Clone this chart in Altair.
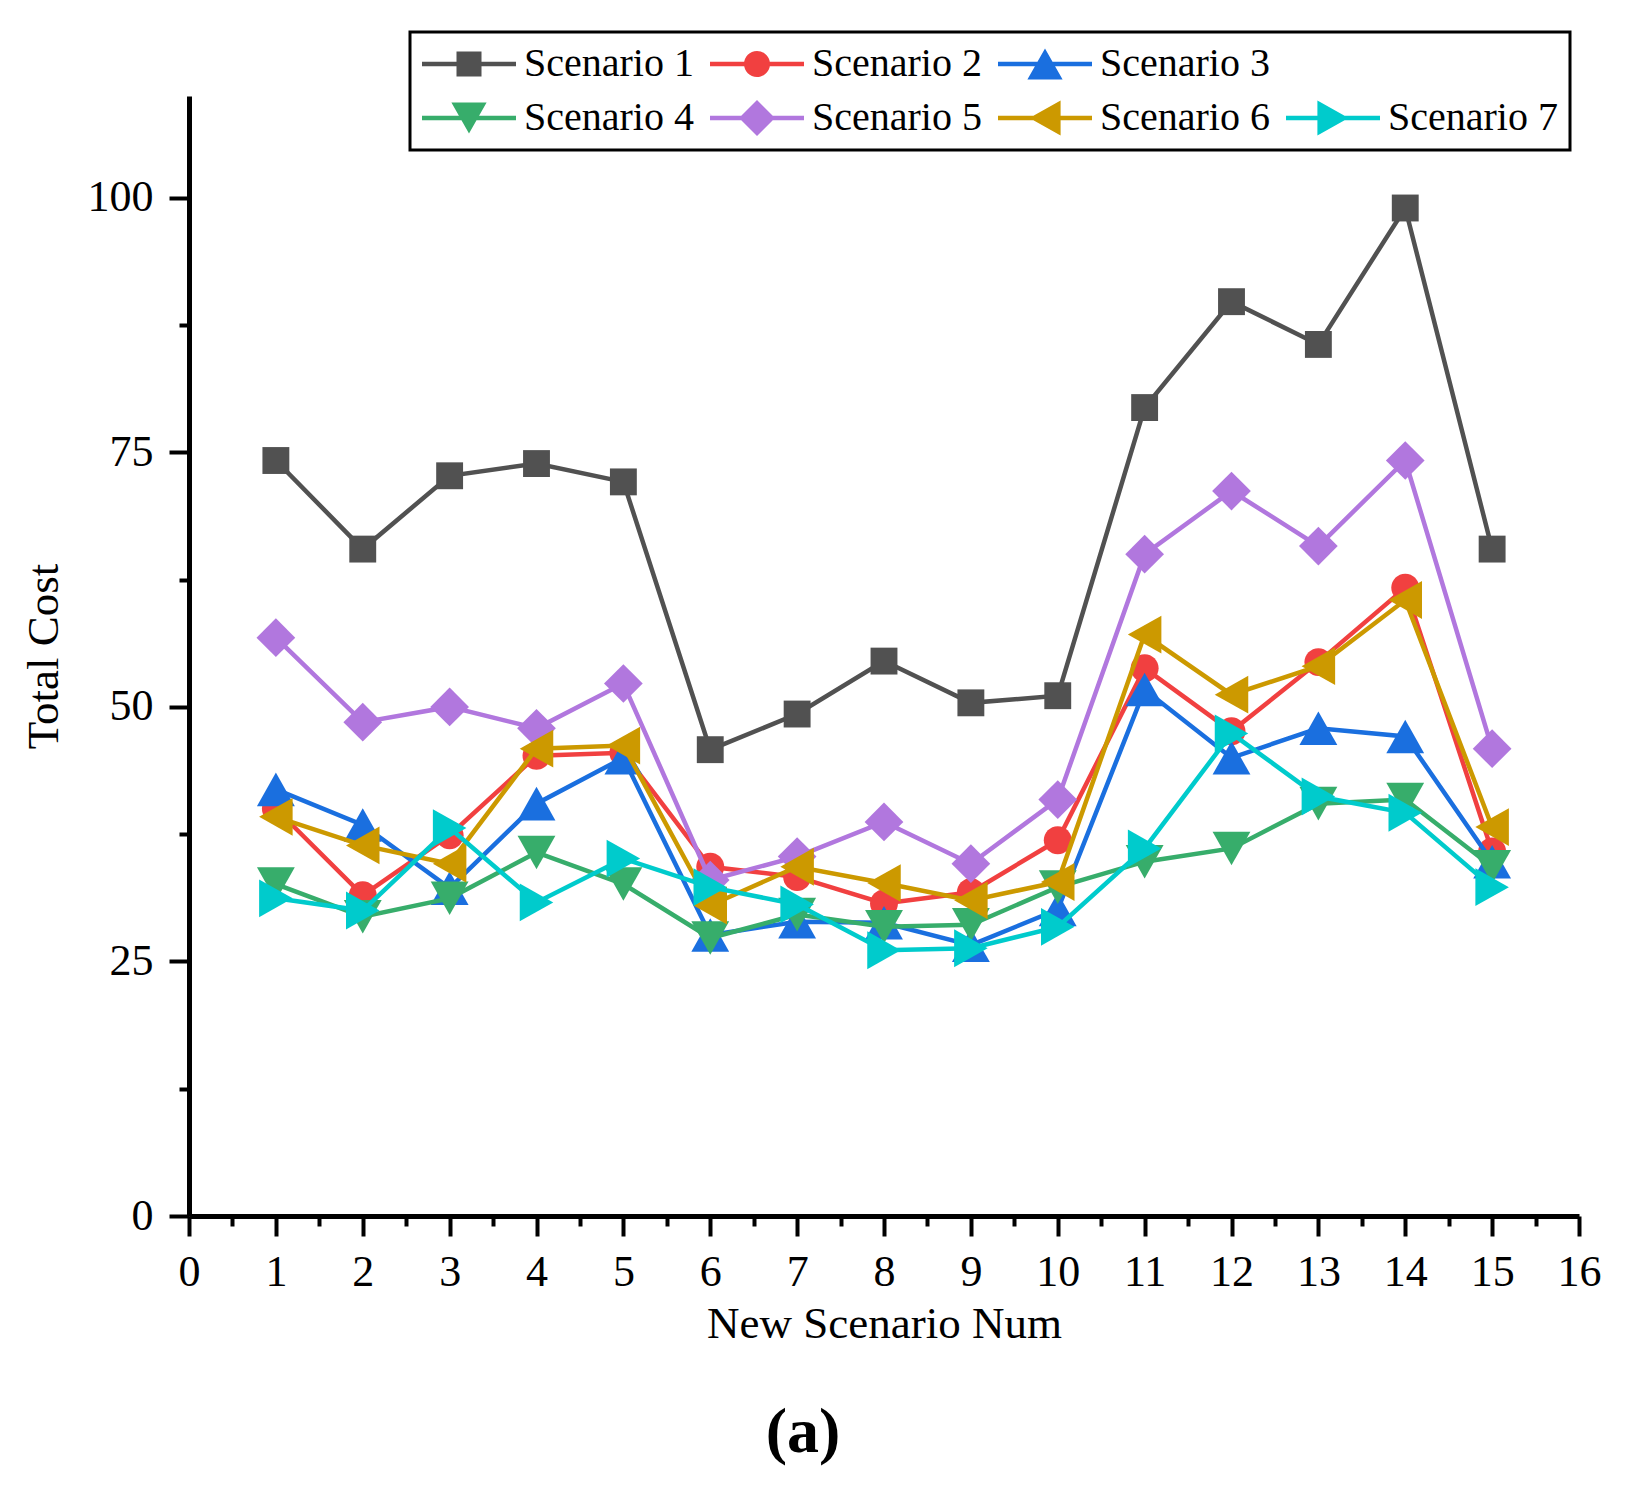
import altair as alt
import pandas as pd

# ---------------- data ----------------
scenario_nums = list(range(1, 16))
series_names = ["Scenario 1", "Scenario 2", "Scenario 3", "Scenario 4",
                "Scenario 5", "Scenario 6", "Scenario 7"]

scenario_1 = [74.2, 65.5, 72.7, 73.9, 72.1, 45.8, 49.3, 54.5, 50.4, 51.1, 79.4, 89.8, 85.6, 99.0, 65.5]
scenario_2 = [40.0, 31.5, 37.4, 45.2, 45.5, 34.3, 33.3, 30.7, 31.8, 36.9, 53.8, 47.6, 54.4, 61.7, 35.8]
scenario_3 = [41.9, 38.4, 32.2, 40.5, 45.0, 27.6, 28.9, 28.8, 26.6, 30.1, 51.7, 45.0, 47.9, 47.1, 34.8]
scenario_4 = [32.6, 29.4, 31.2, 35.7, 32.6, 27.3, 29.6, 28.4, 28.6, 32.3, 34.8, 36.1, 40.5, 40.9, 34.3]
scenario_5 = [56.8, 48.5, 50.0, 47.9, 52.3, 33.0, 35.3, 38.7, 34.6, 40.9, 65.0, 71.2, 65.8, 74.2, 45.9]
scenario_6 = [39.2, 36.4, 34.6, 45.9, 46.2, 30.5, 34.3, 32.7, 31.0, 32.8, 57.1, 51.2, 54.0, 60.5, 38.2]
scenario_7 = [31.2, 30.0, 38.1, 30.8, 35.1, 32.3, 30.6, 26.1, 26.3, 28.4, 36.1, 47.4, 41.2, 39.6, 32.3]

all_series = [scenario_1, scenario_2, scenario_3, scenario_4, scenario_5, scenario_6, scenario_7]
colors = ["#515151", "#F14040", "#1A6FDF", "#37AD6B", "#B177DE", "#CC9900", "#00CBCC"]

x_tick_values = [i * 0.5 for i in range(33)]
y_tick_values = [i * 12.5 for i in range(9)]

rows = []
for name, vals in zip(series_names, all_series):
    for n, v in zip(scenario_nums, vals):
        rows.append({"num": n, "cost": v, "series": name})
df = pd.DataFrame(rows)

# ---------------- marker shapes (unit = sqrt(size)/2 px) ----------------
marker_paths = [
    "M-0.625,-0.625H0.625V0.625H-0.625Z",                                   # square
    "M0.65,0A0.65,0.65 0 1,1 -0.65,0A0.65,0.65 0 1,1 0.65,0Z",               # circle
    "M0,-0.78L0.88,0.78L-0.88,0.78Z",                                       # triangle up
    "M-0.88,-0.78L0.88,-0.78L0,0.78Z",                                      # triangle down
    "M0,-0.9L0.9,0L0,0.9L-0.9,0Z",                                          # diamond
    "M-0.78,0L0.78,-0.88L0.78,0.88Z",                                       # triangle left
    "M0.78,0L-0.78,0.88L-0.78,-0.88Z",                                      # triangle right
]
bar = "M-2.35,-0.11H2.35V0.11H-2.35Z "
legend_paths = [bar + p for p in marker_paths]

# legend layout: 3 entries on the first row, 4 on the second (blank slot keeps the grid)
blank = " "
legend_domain = series_names[:3] + [blank] + series_names[3:]
legend_colors = colors[:3] + ["rgba(0,0,0,0)"] + colors[3:]
legend_shapes = legend_paths[:3] + ["M0,0L0.01,0L0,0.01Z"] + legend_paths[3:]

FONT = "Liberation Serif"

x_axis = alt.Axis(
    title="New Scenario Num", values=x_tick_values,
    labelExpr="datum.value % 1 === 0 ? format(datum.value, 'd') : ''",
    tickSize={"condition": {"test": "datum.value % 1 === 0", "value": 20}, "value": 10},
    grid=False, labelFlush=False, labelOverlap=False,
    labelPadding=14, titlePadding=7,
)
y_axis = alt.Axis(
    title="Total Cost", values=y_tick_values,
    labelExpr="datum.value % 25 === 0 ? format(datum.value, 'd') : ''",
    tickSize={"condition": {"test": "datum.value % 25 === 0", "value": 20}, "value": 10},
    grid=False, labelFlush=False, labelOverlap=False,
    labelPadding=16, titlePadding=21,
)

x_enc = alt.X("num:Q", scale=alt.Scale(domain=[0, 16], nice=False, zero=False), axis=x_axis)
y_enc = alt.Y("cost:Q", scale=alt.Scale(domain=[0, 110], nice=False), axis=y_axis)

base = alt.Chart(df)
layers = []
for i, name in enumerate(series_names):
    sub = base.transform_filter(alt.datum.series == name)
    layers.append(sub.mark_line(color=colors[i], strokeWidth=4.5).encode(x=x_enc, y=y_enc))
    layers.append(sub.mark_point(shape=marker_paths[i], filled=True, color=colors[i],
                                 size=1850, opacity=1, strokeWidth=0).encode(x=x_enc, y=y_enc))

legend = alt.Legend(
    title=None, orient="none", legendX=221, legendY=-64, direction="horizontal", columns=4,
    labelFont=FONT, labelFontSize=40, labelColor="black", labelLimit=400,
    labelOffset=35, symbolOffset=27, symbolSize=1600, symbolStrokeWidth=0, symbolOpacity=1,
    columnPadding=16, rowPadding=14, padding=12,
    strokeColor="black", fillColor="white",
)

legend_layer = base.transform_filter("false").mark_point(filled=True, size=1600, opacity=1).encode(
    x=x_enc, y=y_enc,
    color=alt.Color("series:N", scale=alt.Scale(domain=legend_domain, range=legend_colors), legend=legend),
    shape=alt.Shape("series:N", scale=alt.Scale(domain=legend_domain, range=legend_shapes), legend=legend),
)
layers.append(legend_layer)

chart = alt.layer(*layers).properties(
    width=1390, height=1120,
    autosize=alt.AutoSizeParams(type="none"),
    padding={"left": 181, "top": 88, "right": 36, "bottom": 270},
    title=alt.TitleParams("(a)", orient="bottom", anchor="middle", frame="group", dx=-81,
                          offset=55, fontSize=64, font=FONT, fontWeight="bold", color="black"),
).configure_view(stroke=None).configure_axis(
    domainColor="black", domainWidth=5, tickColor="black", tickWidth=4,
    labelFont=FONT, labelFontSize=44, labelColor="black",
    titleFont=FONT, titleFontSize=45, titleFontWeight="normal", titleColor="black",
).configure_legend(strokeWidth=3)

chart.save("out.html", embed_options={"renderer": "svg", "actions": False})
